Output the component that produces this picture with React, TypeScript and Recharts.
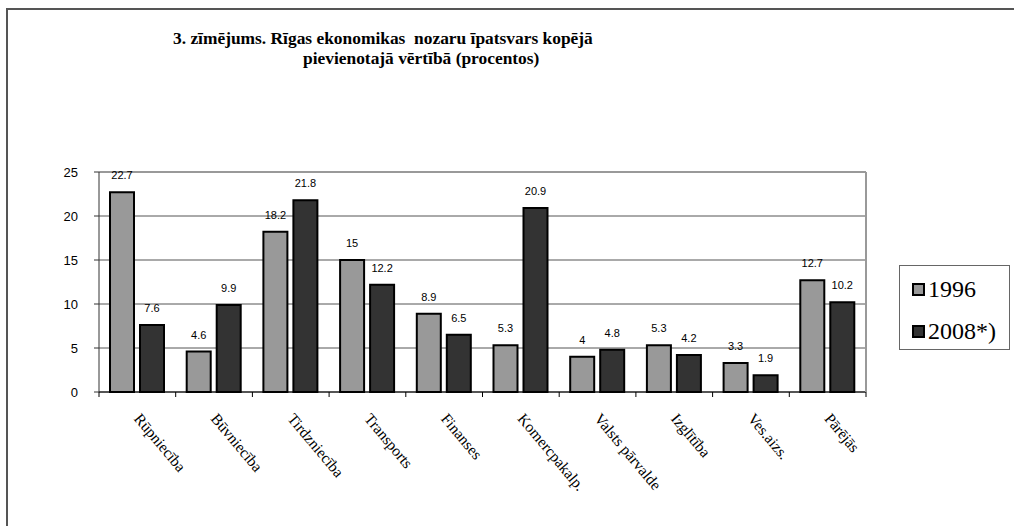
import { BarChart, Bar, XAxis, YAxis, CartesianGrid, LabelList, Legend, ReferenceLine } from 'recharts'

const categories = ['Rūpniecība', 'Būvniecība', 'Tirdzniecība', 'Transports', 'Finanses', 'Komercpakalp.', 'Valsts pārvalde', 'Izglītība', 'Ves.aizs.', 'Pārējās']
const values1996 = [22.7, 4.6, 18.2, 15, 8.9, 5.3, 4, 5.3, 3.3, 12.7]
const values2008 = [7.6, 9.9, 21.8, 12.2, 6.5, 20.9, 4.8, 4.2, 1.9, 10.2]
const yTicks = [0, 5, 10, 15, 20, 25]

const data = categories.map((name, i) => ({ name, a: values1996[i], b: values2008[i] }))

const SERIF = '"Liberation Serif", "Times New Roman", serif'
const SANS = '"Liberation Sans", Arial, sans-serif'

// kategoriju nosaukumi slīpi + iedaļas uz kategoriju robežām
function CatTick({ x, y, payload, index, visibleTicksCount }: any) {
  const half = payload?.offset ?? 0
  const last = index === (visibleTicksCount ?? 0) - 1
  return (
    <g>
      {half > 0 && <line x1={x - half} x2={x - half} y1={y} y2={y + 5} stroke="#000" />}
      {half > 0 && last && <line x1={x + half} x2={x + half} y1={y} y2={y + 5} stroke="#000" />}
      <text transform={`translate(${x - 4},${y + 27}) rotate(50)`} fontFamily={SERIF} fontSize={15.5} fill="#000">
        {payload.value}
      </text>
    </g>
  )
}

function LegendBox({ payload }: any) {
  return (
    <div style={{ boxSizing: 'border-box', width: 111, height: 85, border: '1px solid #666', paddingTop: 2, background: '#fff' }}>
      {(payload || []).map((p: any) => (
        <div key={p.value} style={{ display: 'flex', alignItems: 'center', height: 42, paddingLeft: 12 }}>
          <span style={{ boxSizing: 'border-box', width: 13, height: 13, border: '2px solid #000', background: p.color, marginRight: 3 }} />
          <span style={{ fontFamily: SERIF, fontSize: 24, color: '#000', lineHeight: '24px' }}>{p.value}</span>
        </div>
      ))}
    </div>
  )
}

export default function App() {
  return (
    <div style={{ position: 'fixed', left: 0, top: 0, width: 1014, height: 526, overflow: 'hidden', background: '#fff' }}>
      <div style={{ position: 'absolute', left: 6, top: 8, width: 1100, height: 600, borderTop: '2px solid #555', borderLeft: '2px solid #555' }} />
      <div style={{ position: 'absolute', left: 173, top: 28, fontFamily: SERIF, fontWeight: 'bold', fontSize: 17.4, lineHeight: '20px', whiteSpace: 'pre' }}>
        3. zīmējums. Rīgas ekonomikas  nozaru īpatsvars kopējā
      </div>
      <div style={{ position: 'absolute', left: 303, top: 48, fontFamily: SERIF, fontWeight: 'bold', fontSize: 17.4, lineHeight: '20px', whiteSpace: 'pre' }}>
        pievienotajā vērtībā (procentos)
      </div>
      <div style={{ position: 'absolute', left: 0, top: 0 }}>
        <BarChart width={1014} height={526} data={data} margin={{ top: 172, right: 147, bottom: 133, left: 39 }} barSize={24} barGap={6}>
          <CartesianGrid vertical={false} stroke="#555" />
          <XAxis dataKey="name" height={1} tickSize={0} tickMargin={0} tickLine={false} axisLine={{ stroke: '#000' }}
            interval={0} tick={<CatTick />} />
          <YAxis width={60} domain={[0, 25]} ticks={yTicks} tickSize={5} tickMargin={16}
            axisLine={{ stroke: '#333' }} tickLine={{ stroke: '#333' }} tick={{ fontFamily: SANS, fontSize: 13, fill: '#000' }} />
          <YAxis yAxisId="r" orientation="right" width={1} domain={[0, 25]} ticks={yTicks} tick={false} tickLine={false}
            axisLine={{ stroke: '#999', strokeWidth: 2 }} />
          <ReferenceLine y={25} stroke="#999" strokeWidth={2} />
          <Bar dataKey="a" name="1996" fill="#999999" stroke="#000" strokeWidth={2} isAnimationActive={false}>
            <LabelList dataKey="a" position="top" offset={13} fill="#000" fontSize={11} fontFamily={SANS} />
          </Bar>
          <Bar dataKey="b" name="2008*)" fill="#333333" stroke="#000" strokeWidth={2} isAnimationActive={false}>
            <LabelList dataKey="b" position="top" offset={13} fill="#000" fontSize={11} fontFamily={SANS} />
          </Bar>
          <Legend layout="horizontal" verticalAlign="middle" align="center" content={<LegendBox />}
            wrapperStyle={{ position: 'absolute', left: 899, top: 265, width: 111, height: 85 }} />
        </BarChart>
      </div>
    </div>
  )
}
